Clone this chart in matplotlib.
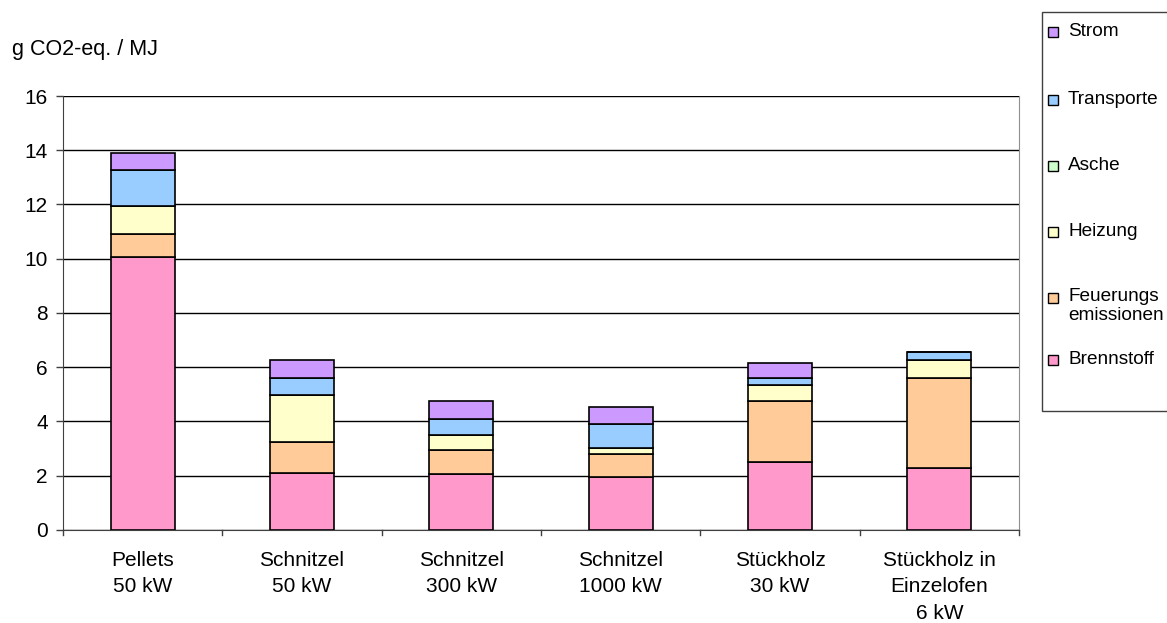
import matplotlib.pyplot as plt
from matplotlib.patches import Rectangle
import numpy as np

plt.rcParams['font.family'] = ['Liberation Sans', 'DejaVu Sans']

categories = ['Pellets\n50 kW', 'Schnitzel\n50 kW', 'Schnitzel\n300 kW',
              'Schnitzel\n1000 kW', 'Stückholz\n30 kW', 'Stückholz in\nEinzelofen\n6 kW']

# stacked components, bottom to top
brennstoff = [10.05, 2.10, 2.06, 1.97, 2.50, 2.27]
feuerung = [0.87, 1.14, 0.90, 0.82, 2.27, 3.34]
heizung = [1.01, 1.75, 0.56, 0.24, 0.57, 0.67]
asche = [0.0, 0.0, 0.0, 0.0, 0.0, 0.0]
transporte = [1.35, 0.62, 0.56, 0.88, 0.27, 0.30]
strom = [0.63, 0.67, 0.69, 0.64, 0.53, 0.0]

series = [brennstoff, feuerung, heizung, asche, transporte, strom]
labels = ['Brennstoff', 'Feuerungs\nemissionen', 'Heizung', 'Asche', 'Transporte', 'Strom']
colors = ['#FF99CC', '#FFCC99', '#FFFFCC', '#CCFFCC', '#99CCFF', '#CC99FF']

fig = plt.figure(figsize=(11.67, 6.23), dpi=100)
ax = fig.add_axes([0.054, 0.1493, 0.8192, 0.6966])

x = np.arange(len(categories))
bottom = np.zeros(len(categories))
for vals, col in zip(series, colors):
    ax.bar(x, vals, 0.4, bottom=bottom, color=col, edgecolor='black', linewidth=1.2, zorder=3)
    bottom += np.array(vals)

ax.set_xlim(-0.5, len(categories) - 0.5)
ax.set_ylim(0, 16)
ax.set_yticks(range(0, 17, 2))
ax.yaxis.grid(True, color='black', linewidth=1, zorder=0)
ax.tick_params(axis='y', labelsize=15, length=5, width=1, color='#404040', pad=6)

# category labels between boundary ticks
ax.set_xticks(x)
ax.set_xticklabels(categories, fontsize=15, linespacing=1.5)
ax.tick_params(axis='x', length=0, pad=15)
for b in np.arange(-0.5, len(categories), 1.0):
    ax.plot([b, b], [0, -0.2], color='#404040', linewidth=1, clip_on=False)

ax.spines['top'].set_visible(False)
ax.spines['left'].set_color('#404040')
ax.spines['bottom'].set_color('#404040')
ax.spines['right'].set_color('#909090')

fig.text(12 / 1167, 1 - 50 / 623, 'g CO2-eq. / MJ', fontsize=15.5, va='center', ha='left')

# legend box drawn by hand (marker aligned with first label line)
W, H = 1167.0, 623.0
fig.patches.append(Rectangle((1042 / W, 1 - 411 / H), 140 / W, (411 - 12) / H,
                             transform=fig.transFigure, facecolor='white',
                             edgecolor='#404040', linewidth=1))
leg_y = [360, 298, 232, 166, 100, 32]
for lab, col, yy in zip(labels, colors, leg_y):
    fig.patches.append(Rectangle((1047.5 / W, 1 - (yy + 5) / H), 10 / W, 10 / H,
                                 transform=fig.transFigure, facecolor=col,
                                 edgecolor='black', linewidth=1))
    if '\n' in lab:
        fig.text(1068 / W, 1 - (yy - 10) / H, lab, fontsize=13.7, va='top',
                 ha='left', linespacing=1.15)
    else:
        fig.text(1068 / W, 1 - yy / H, lab, fontsize=13.7, va='center', ha='left')

fig.savefig('out.png', dpi=100)
